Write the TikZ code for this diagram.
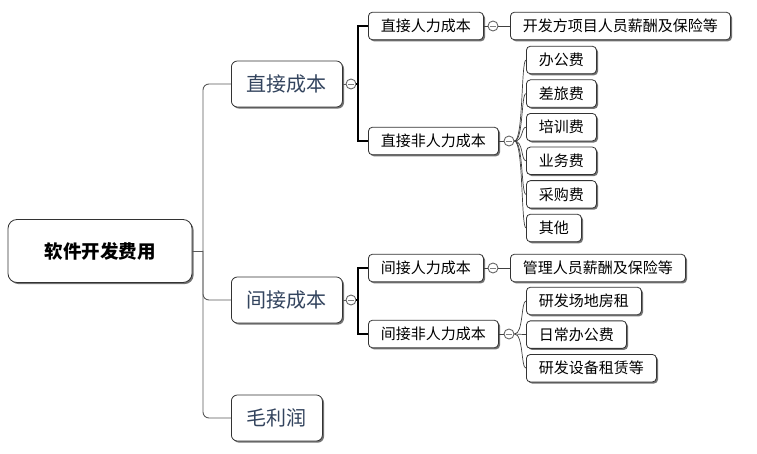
\documentclass[tikz,border=0pt]{standalone}
\usepackage{fontspec}
\setmainfont{Noto Sans CJK SC}
\usetikzlibrary{positioning, shadows}
\definecolor{trunkgray}{HTML}{595959}
\definecolor{topictext}{HTML}{33445E}

\begin{document}
\begin{tikzpicture}[
      x=1pt, y=-1pt,
      box/.style={draw=black!80, fill=white, rounded corners=4pt, line width=0.8pt,
                  drop shadow={shadow xshift=1.6pt, shadow yshift=-1.6pt,
                               fill=black!55, opacity=1}},
      rootbox/.style={box, rounded corners=9pt, minimum width=184pt,
                      minimum height=63pt, font=\fontsize{18.5}{20}\selectfont\bfseries},
      topic/.style={box, rounded corners=6pt, minimum height=46pt, inner xsep=15.5pt,
                    inner ysep=0pt, font=\fontsize{20}{22}\selectfont, text=topictext},
      sub/.style={box, minimum height=27.5pt, inner xsep=12.5pt, inner ysep=0pt,
                  font=\fontsize{15}{16}\selectfont},
      knob/.style={circle, draw=black!60, fill=white, line width=0.9pt,
                   minimum size=10pt, inner sep=0pt,
                   path picture={\draw[black!50, line width=0.8pt]
                     ([xshift=-3pt]path picture bounding box.center) --
                     ([xshift=3pt]path picture bounding box.center);}},
      link/.style={draw=trunkgray, line width=0.9pt},
      brace/.style={draw=black, line width=1.4pt},
      twig/.style={draw=black!75, line width=0.7pt},
    ]
    \useasboundingbox (0,0) rectangle (757,454);

    % ── root and main topics ──
    \node[rootbox] (root) at (100,251) {软件开发费用};
    \coordinate (trunk) at (203,251);
    \node[topic, anchor=west] (zj) at (231,84) {直接成本};
    \node[topic, anchor=west] (jj) at (231,300) {间接成本};
    \node[topic, anchor=west] (mll) at (231,418) {毛利润};

    % ── direct costs ──
    \node[knob] (zjk) at (351,84) {};
    \coordinate (zjj) at (358,84);
    \node[sub, anchor=west] (zjrl) at (368,26) {直接人力成本};
    \node[sub, anchor=west] (zjfrl) at (368,141) {直接非人力成本};
    \node[knob] (zjrlk) at (493,26) {};
    \node[sub, anchor=west] (kff) at (510,26) {开发方项目人员薪酬及保险等};
    \node[knob] (zjfrlk) at (509,141) {};

    \node[sub, anchor=west] (bgf) at (526,60) {办公费};
    \node[sub, below=5.3pt of bgf.south west, anchor=north west] (clf) {差旅费};
    \node[sub, below=5.3pt of clf.south west, anchor=north west] (pxf) {培训费};
    \node[sub, below=5.3pt of pxf.south west, anchor=north west] (ywf) {业务费};
    \node[sub, below=5.3pt of ywf.south west, anchor=north west] (cgf) {采购费};
    \node[sub, below=5.3pt of cgf.south west, anchor=north west] (qt) {其他};

    % ── indirect costs ──
    \node[knob] (jjk) at (351,300) {};
    \coordinate (jjj) at (358,300);
    \node[sub, anchor=west] (jjrl) at (368,268) {间接人力成本};
    \node[sub, anchor=west] (jjfrl) at (368,334) {间接非人力成本};
    \node[knob] (jjrlk) at (493,268) {};
    \node[sub, anchor=west] (glry) at (510,268) {管理人员薪酬及保险等};
    \node[knob] (jjfrlk) at (509,334) {};

    \node[sub, anchor=west] (cdfz) at (526,301) {研发场地房租};
    \node[sub, below=5.3pt of cdfz.south west, anchor=north west] (rcbg) {日常办公费};
    \node[sub, below=5.3pt of rcbg.south west, anchor=north west] (sbzl) {研发设备租赁等};

    % ── trunk ──
    \draw[link] (root.east) -- (trunk);
    \draw[link, rounded corners=6pt] (trunk) |- (zj.west);
    \draw[link, rounded corners=6pt] (trunk) |- (jj.west);
    \draw[link, rounded corners=6pt] (trunk) |- (mll.west);

    % ── direct branch ──
    \draw[link] (zj.east) -- (zjk.west);
    \draw[brace] (zjk.east) -- (zjj);
    \draw[brace] (zjrl.west) -| (zjj) |- (zjfrl.west);
    \draw[twig] (zjrl.east) -- (zjrlk.west);
    \draw[twig] (zjrlk.east) -- (kff.west);
    \draw[twig] (zjfrl.east) -- (zjfrlk.west);
    \draw[twig] (zjfrlk.east) .. controls +(9,0) and +(-5,0) .. (bgf.west);
    \draw[twig] (zjfrlk.east) .. controls +(9,0) and +(-5,0) .. (clf.west);
    \draw[twig] (zjfrlk.east) .. controls +(9,0) and +(-5,0) .. (pxf.west);
    \draw[twig] (zjfrlk.east) .. controls +(9,0) and +(-5,0) .. (ywf.west);
    \draw[twig] (zjfrlk.east) .. controls +(9,0) and +(-5,0) .. (cgf.west);
    \draw[twig] (zjfrlk.east) .. controls +(9,0) and +(-5,0) .. (qt.west);

    % ── indirect branch ──
    \draw[link] (jj.east) -- (jjk.west);
    \draw[brace] (jjk.east) -- (jjj);
    \draw[brace] (jjrl.west) -| (jjj) |- (jjfrl.west);
    \draw[twig] (jjrl.east) -- (jjrlk.west);
    \draw[twig] (jjrlk.east) -- (glry.west);
    \draw[twig] (jjfrl.east) -- (jjfrlk.west);
    \draw[twig] (jjfrlk.east) .. controls +(9,0) and +(-5,0) .. (cdfz.west);
    \draw[twig] (jjfrlk.east) -- (rcbg.west);
    \draw[twig] (jjfrlk.east) .. controls +(9,0) and +(-5,0) .. (sbzl.west);
  \end{tikzpicture}
\end{document}
